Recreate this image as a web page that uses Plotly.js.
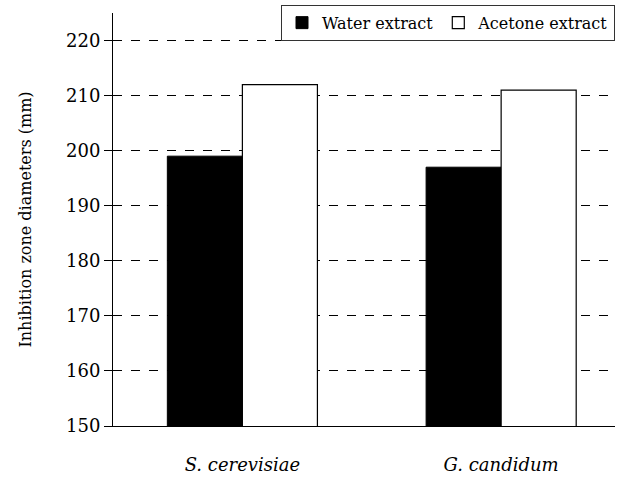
<!DOCTYPE html>
<html>
<head>
<meta charset="utf-8">
<script src="https://cdn.plot.ly/plotly-3.0.1.min.js"></script>
<style>
  html, body { margin: 0; padding: 0; background: #fff; }
  #chart { width: 619px; height: 479px; }
</style>
</head>
<body>
<div id="chart"></div>
<script>
// Organisms tested and inhibition zone diameters (mm) for each extract
const organisms = ['S. cerevisiae', 'G. candidum'];
const organismLabels = ['<i>S. cerevisiae</i>', '<i>G. candidum</i>'];
const waterExtract = [199, 197];
const acetoneExtract = [212, 211];
const yTicks = [150, 160, 170, 180, 190, 200, 210, 220];

const serif = 'DejaVu Serif';

const traces = [
  {
    type: 'bar',
    name: 'Water extract',
    x: organisms,
    y: waterExtract,
    marker: { color: '#000000', line: { color: '#000000', width: 1 } }
  },
  {
    type: 'bar',
    name: 'Acetone extract',
    x: organisms,
    y: acetoneExtract,
    marker: { color: '#ffffff', line: { color: '#000000', width: 1.2 } }
  }
];

const layout = {
  width: 619,
  height: 479,
  margin: { l: 113, r: 4, t: 13, b: 53 },
  paper_bgcolor: '#ffffff',
  plot_bgcolor: '#ffffff',
  font: { family: serif, color: '#000000', size: 18 },
  barmode: 'group',
  bargap: 0.42,
  bargroupgap: 0,
  showlegend: true,
  legend: {
    orientation: 'h',
    x: 1.0,
    xanchor: 'right',
    y: 1.02,
    yanchor: 'top',
    bgcolor: '#ffffff',
    bordercolor: '#333333',
    borderwidth: 1,
    font: { family: serif, size: 16, color: '#000000' },
    itemwidth: 30,
    traceorder: 'normal'
  },
  xaxis: {
    type: 'category',
    range: [-0.5, 1.44],
    tickvals: organisms,
    ticktext: organismLabels,
    ticks: '',
    ticklabelstandoff: 22,
    showgrid: false,
    showline: true,
    linecolor: '#000000',
    linewidth: 1,
    zeroline: false,
    tickfont: { family: serif, size: 18, color: '#000000' }
  },
  yaxis: {
    range: [150, 225],
    tickvals: yTicks,
    ticks: 'outside',
    ticklen: 8,
    tickcolor: '#000000',
    tickwidth: 1,
    showline: true,
    linecolor: '#000000',
    linewidth: 1,
    showgrid: true,
    gridcolor: '#000000',
    gridwidth: 1,
    griddash: 'dash',
    zeroline: false,
    tickfont: { family: serif, size: 18, color: '#000000' },
    title: {
      text: 'Inhibition zone diameters (mm)',
      font: { family: serif, size: 16, color: '#000000' },
      standoff: 30
    }
  }
};

Plotly.newPlot('chart', traces, layout, { staticPlot: true, displayModeBar: false });
</script>
</body>
</html>
